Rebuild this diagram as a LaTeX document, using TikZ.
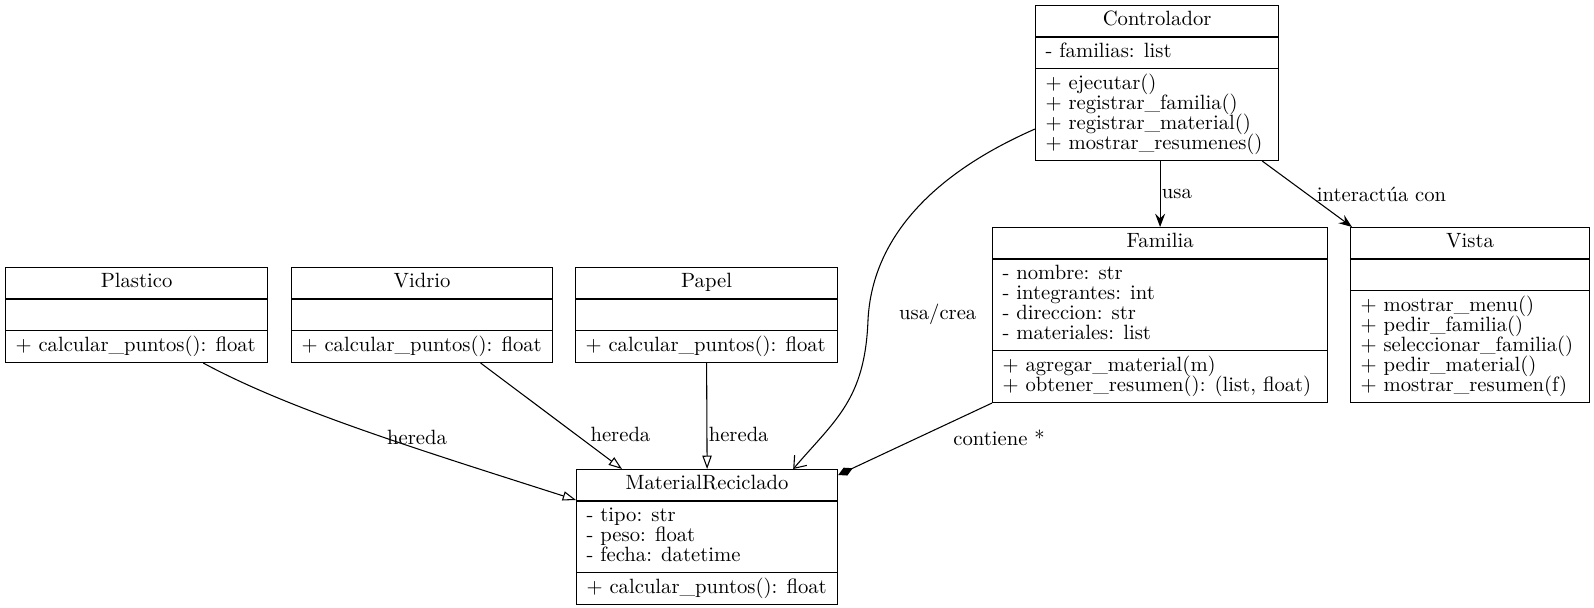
\documentclass[tikz,border=0pt]{standalone}
\usepackage{fontspec}
\setmainfont{lmroman10-regular.otf}
\usetikzlibrary{shapes.multipart, arrows.meta}

\newcommand{\ustrut}{\rule[-4pt]{0pt}{15pt}}

\begin{document}
\lineskiplimit=-10pt
\begin{tikzpicture}[x=0.75pt, y=-0.75pt,
		classbox/.style={draw, line width=0.9pt, rectangle split, rectangle split parts=3,
			rectangle split part align={center,left,left}, align=left, anchor=north west,
			inner xsep=7.5pt, inner ysep=3.8pt,
			font=\fontsize{15.5}{15}\selectfont},
		lbl/.style={font=\fontsize{15.5}{15}\selectfont, inner sep=1pt},
		vee/.style={-{Stealth[length=10pt,width=7.5pt,inset=3.5pt]}},
		opn/.style={-{Straight Barb[length=8pt,width=12pt]}},
		inherit/.style={-{Triangle[open,length=10pt,width=7pt]}},
		compose/.style={-{Diamond[length=12pt,width=6.5pt]}}]
	\useasboundingbox (0,0) rectangle (1594,607);
	
	\node[classbox, minimum width=182.25pt] (controlador) at (1035,5) {\ustrut Controlador
		\nodepart{second}\ustrut - familias: list
		\nodepart{third}\ustrut + ejecutar()\\\ustrut + registrar\_familia()\\\ustrut + registrar\_material()\\\ustrut + mostrar\_resumenes()};
	\node[classbox, minimum width=251.25pt] (familia) at (992,227) {\ustrut Familia
		\nodepart{second}\ustrut - nombre: str\\\ustrut - integrantes: int\\\ustrut - direccion: str\\\ustrut - materiales: list
		\nodepart{third}\ustrut + agregar\_material(m)\\\ustrut + obtener\_resumen(): (list, float)};
	\node[classbox, minimum width=179.25pt] (vista) at (1350,227) {\ustrut Vista
		\nodepart{second}\ustrut
		\nodepart{third}\ustrut + mostrar\_menu()\\\ustrut + pedir\_familia()\\\ustrut + seleccionar\_familia()\\\ustrut + pedir\_material()\\\ustrut + mostrar\_resumen(f)};
	\node[classbox, minimum width=196.5pt] (plastico) at (5,267) {\ustrut Plastico
		\nodepart{second}\ustrut
		\nodepart{third}\ustrut + calcular\_puntos(): float};
	\node[classbox, minimum width=195.75pt] (vidrio) at (291,267) {\ustrut Vidrio
		\nodepart{second}\ustrut
		\nodepart{third}\ustrut + calcular\_puntos(): float};
	\node[classbox, minimum width=196.5pt] (papel) at (575,267) {\ustrut Papel
		\nodepart{second}\ustrut
		\nodepart{third}\ustrut + calcular\_puntos(): float};
	\node[classbox, minimum width=195.75pt] (material) at (576,469) {\ustrut MaterialReciclado
		\nodepart{second}\ustrut - tipo: str\\\ustrut - peso: float\\\ustrut - fecha: datetime
		\nodepart{third}\ustrut + calcular\_puntos(): float};
	
	\path[line width=0.8pt]
	(familia.north |- controlador.south) edge[vee] node[lbl, right]{usa} (familia.north)
	([xshift=-12.75pt]controlador.south east) edge[vee] node[lbl, right=6pt]{interactúa con} ([xshift=1.5pt]vista.north west)
	([xshift=43.9pt]vidrio.south) edge[inherit] node[lbl, pos=0.67, right=10pt]{hereda} ([xshift=34.5pt]material.north west)
	(papel.south) edge[inherit] node[lbl, pos=0.67, right]{hereda} (material.north)
	(familia.south west) edge[compose] node[lbl, pos=0.35, anchor=north west, xshift=10pt]{contiene *} ([yshift=-4.5pt]material.north east);
	
	\draw[opn, line width=0.8pt] ([yshift=-34.5pt]controlador.west) .. controls (930,175) and (872,240) .. (868,320)
	node[lbl, right=22pt, yshift=4pt]{usa/crea} .. controls (865,400) and (835,420) .. ([xshift=-33.75pt]material.north east);
	\draw[inherit, line width=0.8pt] ([xshift=50pt]plastico.south) .. controls (290,410) and (420,450) .. ([yshift=-23.25pt]material.north west)
	node[lbl, pos=0.62, above, xshift=5pt]{hereda};
	
\end{tikzpicture}
\end{document}
